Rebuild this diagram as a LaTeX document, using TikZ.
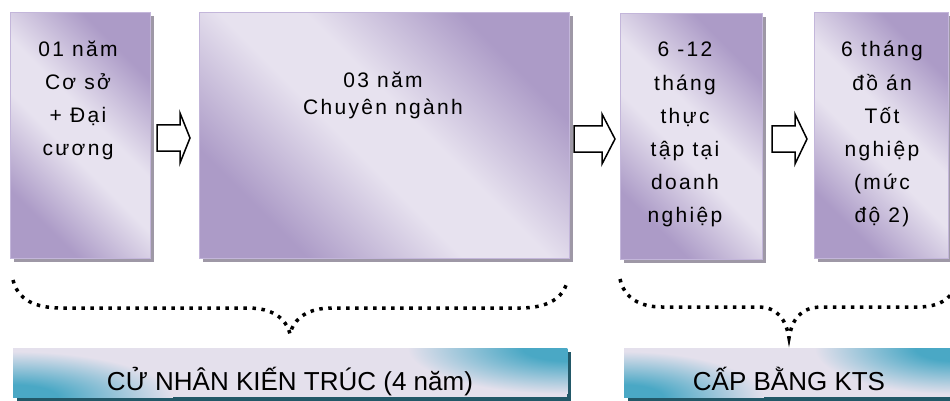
\documentclass[tikz,border=0pt]{standalone}
\usepackage{fontspec}
\setmainfont{Liberation Sans}
\newfontfamily\boxfont[LetterSpace=11]{Liberation Sans}
\newfontfamily\banfont{Liberation Sans}
\usetikzlibrary{shadows}
\definecolor{pdark}{RGB}{172,155,199}
\definecolor{plight}{RGB}{231,226,239}
\definecolor{pborder}{RGB}{195,182,218}
\definecolor{pshadow}{RGB}{158,152,166}
\definecolor{bteal}{RGB}{74,168,197}
\definecolor{blight}{RGB}{228,224,236}
\definecolor{bshadow}{RGB}{34,88,104}
\pgfdeclarehorizontalshading{boxshade}{100bp}{color(0bp)=(pdark); color(27bp)=(pdark); color(45bp)=(plight); color(55bp)=(plight); color(73bp)=(pdark); color(100bp)=(pdark)}
\pgfdeclareradialshading{tealcorner}{\pgfpoint{0bp}{0bp}}{color(0bp)=(bteal); color(7bp)=(bteal); color(25bp)=(blight); color(50bp)=(blight)}
\begin{document}
\begin{tikzpicture}[x=1pt,y=-1pt,
  stagebox/.style={draw=pborder, line width=0.8pt, shade, shading=boxshade, shading angle=45,
    drop shadow={shadow xshift=4pt, shadow yshift=-4pt, fill=pshadow, opacity=1},
    inner sep=0pt, anchor=north west},
  stagetext/.style={font=\boxfont\fontsize{21pt}{#1}\selectfont, align=center, anchor=base, inner sep=0pt},
  bannerbox/.style={fill=blight, drop shadow={shadow xshift=4pt, shadow yshift=-4pt, fill=bshadow, opacity=1},
    inner sep=0pt, anchor=north west, minimum height=49pt},
  bannertext/.style={font=\banfont\fontsize{26pt}{30pt}\selectfont, anchor=base, inner sep=0pt},
  blockarrow/.style={draw=black, line width=1.5pt, fill=white, line join=miter},
  dotbrace/.style={line width=3.5pt, dash pattern=on 3.5pt off 5.5pt}]
\useasboundingbox (0,0) rectangle (950,401);
\clip (0,0) rectangle (950,401);

% stage boxes
\node[stagebox, minimum width=140pt, minimum height=246pt] (b1) at (10,12) {};
\node[stagebox, minimum width=370pt, minimum height=246pt] (b2) at (199,12) {};
\node[stagebox, minimum width=142pt, minimum height=246pt] (b3) at (620,13) {};
\node[stagebox, minimum width=134pt, minimum height=246pt] (b4) at (814,12) {};

% anchor=base of a multi-line node is the baseline of its last line
\node[stagetext=32.7pt] (t1) at (78,155) {01 năm\\Cơ sở\\+ Đại\\cương};
\node[stagetext=27pt] (t2) at (383,114) {03 năm\\Chuyên ngành};
\node[stagetext=33pt] (t3) at (685,222) {6 -12\\tháng\\thực\\tập tại\\doanh\\nghiệp};
\node[stagetext=33pt] (t4) at (882,222) {6 tháng\\đồ án\\Tốt\\nghiệp\\(mức\\độ 2)};

% block arrows
\newcommand\blockarr[4]{\draw[blockarrow] (#1,#4-13) -- (#2,#4-13) -- (#2,#4-25) -- (#3,#4) -- (#2,#4+25) -- (#2,#4+13) -- (#1,#4+13) -- cycle;}
\blockarr{157}{180}{190}{138}
\blockarr{574}{602}{615}{139}
\blockarr{772}{795}{807}{139}

% braces
\coordinate (l1) at (13,280);
\coordinate (l2) at (290,334);
\coordinate (l3) at (567,282);
\coordinate (r1) at (620,279);
\coordinate (r2) at (789,338);
\coordinate (r3) at (958,279);
\draw[dotbrace] (l1) .. controls (18,300) and (35,308) .. (62,308) -- (248,308)
  .. controls (272,308) and (286,318) .. (l2)
  .. controls (294,318) and (308,308) .. (332,308) -- (520,308)
  .. controls (548,308) and (563,298) .. (l3);
\draw[dotbrace] (r1) .. controls (624,298) and (640,307) .. (662,307) -- (758,307)
  .. controls (778,307) and (786,320) .. (r2)
  .. controls (792,320) and (800,307) .. (822,307) -- (918,307)
  .. controls (940,307) and (954,298) .. (r3);

% banners
\node[bannerbox, minimum width=554pt] (ban1) at (13,348) {};
\node[bannerbox, minimum width=330pt] (ban2) at (624,348) {};
\begin{scope}
\clip (ban1.south west) rectangle (ban1.north east);
\shade[shading=tealcorner] (ban1.south west) ellipse [x radius=160pt, y radius=46pt];
\shade[shading=tealcorner] (ban1.north east) ellipse [x radius=160pt, y radius=46pt];
\end{scope}
\begin{scope}
\clip (ban2.south west) rectangle (ban2.north east);
\shade[shading=tealcorner] (ban2.south west) ellipse [x radius=140pt, y radius=46pt];
\shade[shading=tealcorner] (ban2.north east) ellipse [x radius=140pt, y radius=46pt];
\end{scope}
\node[bannertext] (bt1) at (290,390.5) {CỬ NHÂN KIẾN TRÚC (4 năm)};
\node[bannertext] (bt2) at (789,390.5) {CẤP BẰNG KTS};
\end{tikzpicture}
\end{document}
